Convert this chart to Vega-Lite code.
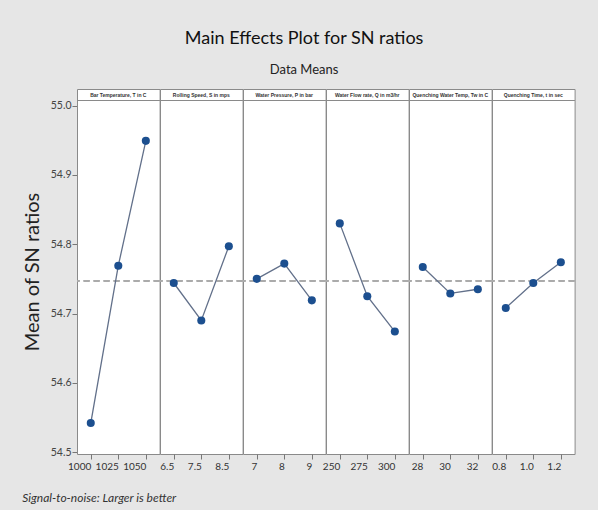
{
  "$schema": "https://vega.github.io/schema/vega-lite/v6.json",
  "background": "#e6e6e6",
  "padding": {"left": 22, "top": 29, "right": 26, "bottom": 6},
  "config": {
    "font": "Lato",
    "view": {"stroke": "#8a8a8a", "fill": "white", "strokeWidth": 1}
  },
  "title": {
    "text": "Signal-to-noise: Larger is better",
    "orient": "bottom",
    "anchor": "start",
    "frame": "bounds",
    "fontSize": 12,
    "fontStyle": "italic",
    "fontWeight": "normal",
    "color": "#333333",
    "offset": 21
  },
  "vconcat": [
    {
      "title": {
        "text": "Main Effects Plot for SN ratios",
        "subtitle": "Data Means",
        "anchor": "middle",
        "frame": "bounds",
        "dx": 5,
        "fontSize": 18,
        "fontWeight": "normal",
        "color": "#111111",
        "subtitleFontSize": 13,
        "subtitleColor": "#222222",
        "subtitlePadding": 16,
        "offset": 12
      },
      "data": {
        "values": [
          {"factor": "Bar Temperature, T in C", "level": "1000", "i": 1, "sn": 54.542},
          {"factor": "Bar Temperature, T in C", "level": "1025", "i": 2, "sn": 54.769},
          {"factor": "Bar Temperature, T in C", "level": "1050", "i": 3, "sn": 54.949},
          {"factor": "Rolling Speed, S in mps", "level": "6.5", "i": 1, "sn": 54.744},
          {"factor": "Rolling Speed, S in mps", "level": "7.5", "i": 2, "sn": 54.690},
          {"factor": "Rolling Speed, S in mps", "level": "8.5", "i": 3, "sn": 54.797},
          {"factor": "Water Pressure, P in bar", "level": "7", "i": 1, "sn": 54.750},
          {"factor": "Water Pressure, P in bar", "level": "8", "i": 2, "sn": 54.772},
          {"factor": "Water Pressure, P in bar", "level": "9", "i": 3, "sn": 54.719},
          {"factor": "Water Flow rate, Q in m3/hr", "level": "250", "i": 1, "sn": 54.830},
          {"factor": "Water Flow rate, Q in m3/hr", "level": "275", "i": 2, "sn": 54.725},
          {"factor": "Water Flow rate, Q in m3/hr", "level": "300", "i": 3, "sn": 54.674},
          {"factor": "Quenching Water Temp, Tw in C", "level": "28", "i": 1, "sn": 54.767},
          {"factor": "Quenching Water Temp, Tw in C", "level": "30", "i": 2, "sn": 54.729},
          {"factor": "Quenching Water Temp, Tw in C", "level": "32", "i": 3, "sn": 54.735},
          {"factor": "Quenching Time, t in sec", "level": "0.8", "i": 1, "sn": 54.708},
          {"factor": "Quenching Time, t in sec", "level": "1.0", "i": 2, "sn": 54.744},
          {"factor": "Quenching Time, t in sec", "level": "1.2", "i": 3, "sn": 54.774}
        ]
      },
      "facet": {
        "column": {
          "field": "factor",
          "type": "nominal",
          "sort": [
            "Bar Temperature, T in C",
            "Rolling Speed, S in mps",
            "Water Pressure, P in bar",
            "Water Flow rate, Q in m3/hr",
            "Quenching Water Temp, Tw in C",
            "Quenching Time, t in sec"
          ],
          "header": null
        }
      },
      "spacing": 0,
      "bounds": "flush",
      "resolve": {"scale": {"x": "independent"}},
      "spec": {
        "width": 82.6,
        "height": 365,
        "layer": [
          {
            "mark": {"type": "rule", "color": "#ababab", "strokeDash": [6, 4], "strokeWidth": 1.8},
            "encoding": {
              "y": {"datum": 54.747, "type": "quantitative"}
            }
          },
          {
            "mark": {"type": "rule", "color": "#8a8a8a", "strokeWidth": 1},
            "encoding": {
              "y": {"datum": 55.0072, "type": "quantitative"}
            }
          },
          {
            "transform": [{"filter": "datum.i == 2"}],
            "mark": {"type": "text", "fontSize": 5, "fontWeight": "bold", "color": "#333333", "baseline": "middle", "align": "center", "font": "Liberation Sans"},
            "encoding": {
              "x": {"field": "level", "type": "nominal"},
              "y": {"datum": 55.0153, "type": "quantitative"},
              "text": {"field": "factor", "type": "nominal"}
            }
          },
          {
            "mark": {"type": "line", "color": "#62708a", "strokeWidth": 1.3},
            "encoding": {
              "x": {
                "field": "level",
                "type": "nominal",
                "scale": {"type": "point", "padding": 0.5},
                "axis": {
                  "title": null,
                  "labelAngle": 0,
                  "labelFontSize": 10,
                  "labelColor": "#333333",
                  "tickColor": "#777777",
                  "tickSize": 5,
                  "domain": false,
                  "labelPadding": 7
                }
              },
              "y": {
                "field": "sn",
                "type": "quantitative",
                "scale": {"domain": [54.4974, 55.0238], "nice": false, "zero": false},
                "axis": {
                  "values": [54.5, 54.6, 54.7, 54.8, 54.9, 55.0],
                  "format": ".1f",
                  "title": "Mean of SN ratios",
                  "titleFontSize": 20,
                  "titleFontWeight": "normal",
                  "titleColor": "#222222",
                  "titlePadding": 8,
                  "labelFontSize": 10.5,
                  "labelColor": "#444444",
                  "labelPadding": 1,
                  "tickColor": "#777777",
                  "tickSize": 5,
                  "domain": false,
                  "grid": false
                }
              }
            }
          },
          {
            "mark": {"type": "point", "filled": true, "color": "#1c4f8f", "size": 65, "opacity": 1},
            "encoding": {
              "x": {"field": "level", "type": "nominal"},
              "y": {"field": "sn", "type": "quantitative"}
            }
          }
        ]
      }
    }
  ]
}
